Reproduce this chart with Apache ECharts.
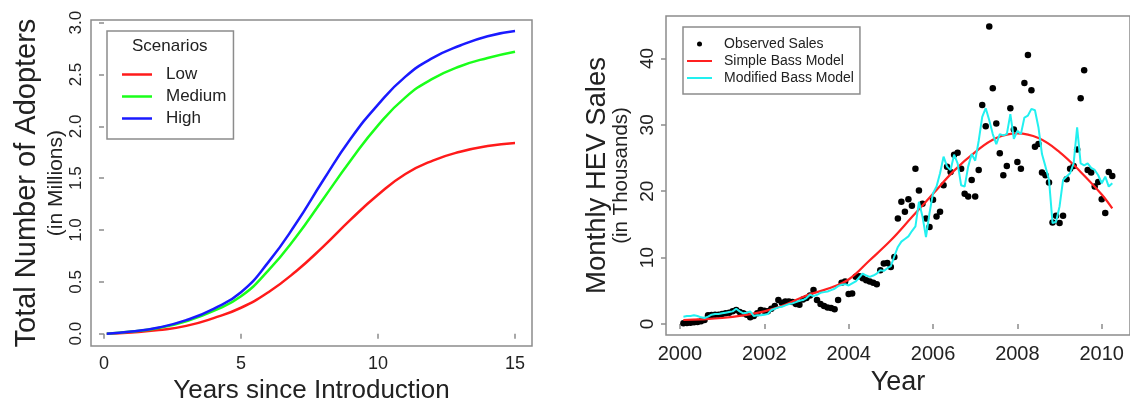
<!DOCTYPE html>
<html>
<head>
<meta charset="utf-8">
<script src="https://cdn.jsdelivr.net/npm/echarts@6/dist/echarts.min.js"></script>
<style>
html, body { margin: 0; padding: 0; background: #fff; }
.main { width: 1130px; height: 409px; }
</style>
</head>
<body>
<div class="main"></div>
<script>
// left panel: cumulative adopters per scenario (millions)
let adoptionYears = [0.1, 1, 2, 3, 4, 5, 6, 7, 8, 9, 10, 11, 12, 13, 14, 15];
let lowAdopters = [0, 0.012, 0.035, 0.075, 0.15, 0.25, 0.40, 0.60, 0.84, 1.10, 1.34, 1.54, 1.67, 1.755, 1.81, 1.84];
let mediumAdopters = [0, 0.02, 0.055, 0.12, 0.22, 0.36, 0.61, 0.93, 1.30, 1.67, 2.01, 2.28, 2.46, 2.58, 2.66, 2.72];
let highAdopters = [0, 0.02, 0.06, 0.13, 0.24, 0.40, 0.69, 1.06, 1.48, 1.88, 2.21, 2.48, 2.66, 2.78, 2.87, 2.92];
let adoptionTicks = [0, 5, 10, 15];
let adopterTicks = [0, 0.5, 1, 1.5, 2, 2.5, 3];

// right panel: monthly HEV sales (thousands), first month Feb 2000
let firstMonth = 2000 + 1 / 12;
let observedSales = [
    0.1, 0.15, 0.2, 0.25, 0.3, 0.4, 0.6, 1.3, 1.35, 1.4, 1.4, 1.5,
    1.6, 1.7, 1.9, 2.1, 1.8, 1.6, 1.4, 1.0, 1.2, 1.6, 2.1, 2.0,
    1.9, 2.3, 2.7, 3.6, 3.2, 3.4, 3.4, 3.3, 3.0, 2.9, 3.7, 3.9,
    4.3, 5.1, 3.6, 3.0, 2.7, 2.5, 2.4, 2.2, 3.6, 6.2, 6.4, 4.5,
    4.6, 7.1, 7.2, 6.9, 6.6, 6.4, 6.2, 6.0, 8.1, 9.1, 9.2, 8.6,
    10.1, 15.9, 18.4, 16.9, 18.8, 17.8, 23.4, 20.1, 18.1, 15.9, 14.6, 18.7,
    16.2, 16.9, 20.9, 23.7, 22.9, 25.5, 25.8, 23.4, 19.6, 19.2, 21.7, 19.2,
    23.2, 33.0, 29.8, 44.8, 35.5, 30.2, 25.7, 22.4, 23.8, 32.5, 29.3, 24.4,
    23.4, 36.3, 40.5, 35.2, 26.7, 27.1, 22.8, 22.4, 21.3, 15.3, 16.3, 15.2,
    16.3, 21.8, 23.4, 23.8, 26.3, 34.0, 38.2, 23.2, 22.8, 20.7, 21.4, 18.8,
    16.7, 22.9, 22.3
];
let modifiedBass = [
    1.1, 1.2, 1.2, 1.3, 1.2, 1.0, 0.9, 1.1, 1.4, 1.5, 1.5, 1.6,
    1.7, 1.8, 1.9, 2.3, 1.9, 1.6, 1.7, 1.9, 1.2, 1.3, 1.3, 1.4,
    1.5, 2.1, 2.3, 2.5, 2.6, 2.8, 3.0, 3.1, 3.3, 3.5, 3.6, 3.9,
    4.4, 4.2, 4.4, 4.7, 4.8, 4.9, 5.1, 5.3, 5.7, 5.9, 6.0, 5.8,
    6.1, 6.4, 7.0, 7.6, 7.3, 7.1, 7.3, 7.6, 8.1, 8.0, 8.4, 8.7,
    10.2, 11.6, 12.4, 12.8, 13.2, 14.0, 14.7, 18.4, 16.2, 13.1, 16.7, 19.7,
    20.7, 22.7, 25.2, 23.7, 23.2, 25.5, 24.2, 20.9, 20.7, 23.7, 25.6, 24.6,
    27.6, 31.2, 32.5, 30.7, 28.6, 27.1, 28.6, 28.4, 28.6, 31.6, 27.9, 29.1,
    28.6, 31.1, 31.4, 32.4, 32.2, 29.6, 25.6, 23.7, 21.7, 15.2, 15.4, 17.7,
    21.7, 22.2, 22.7, 24.2, 29.6, 24.2, 23.9, 24.2, 23.5, 23.2, 22.4, 21.2,
    22.2, 20.7, 21.2
];
let bassYears = [2000.08, 2000.5, 2001, 2001.5, 2002, 2002.5, 2003, 2003.5, 2004, 2004.5, 2005,
    2005.5, 2006, 2006.5, 2007, 2007.5, 2008, 2008.5, 2009, 2009.5, 2010, 2010.25];
let simpleBass = [0.6, 0.7, 0.9, 1.3, 1.9, 2.9, 4.3, 5.3, 6.7, 9.6, 12.6,
    16.1, 19.6, 23.1, 25.9, 28.0, 28.7, 28.0, 25.9, 22.9, 19.5, 17.4];
let yearTicks = [2000, 2002, 2004, 2006, 2008, 2010];
let salesTicks = [0, 10, 20, 30, 40];

let font = "'Liberation Sans', Arial, sans-serif";
let frame = '#8c8c8c';
let ink = '#222';
// plain line swatches for the legends (no symbol in the middle)
let leftSwatch = 'path://M0,0 L30,0 L30,2.5 L0,2.5 Z';
let rightSwatch = 'path://M0,0 L25,0 L25,2 L0,2 Z';

let pairs = function(xs, ys) {
    return ys.map(function(y, i) { return [xs[i], y]; });
};
let monthly = function(values) {
    return values.map(function(v, i) { return [firstMonth + i / 12, v]; });
};

let tickStyle = function(values) {
    return { show: true, length: 5, customValues: values, lineStyle: { color: frame, width: 1.5 } };
};

let myChart = echarts.init(document.querySelector('.main'), null, { renderer: 'canvas' });
let options = {
    animation: false,
    textStyle: { fontFamily: font },
    title: {
        text: 'Scenarios',
        left: 132,
        top: 38,
        padding: 0,
        textStyle: { fontSize: 17, fontWeight: 'normal', color: ink, fontFamily: font }
    },
    legend: [
        {
            data: [
                { name: 'Low', icon: leftSwatch },
                { name: 'Medium', icon: leftSwatch },
                { name: 'High', icon: leftSwatch }
            ],
            orient: 'vertical',
            left: 107,
            top: 31,
            padding: [35, 7, 12, 15],
            itemGap: 5,
            itemWidth: 30,
            itemHeight: 14,
            borderColor: frame,
            borderWidth: 1.5,
            formatter: function(name) { return '{t|' + name + '}'; },
            textStyle: {
                color: ink, fontSize: 17, fontFamily: font,
                rich: { t: { padding: [0, 0, 0, 9], fontSize: 17, color: ink, fontFamily: font } }
            }
        },
        {
            data: [
                { name: 'Observed Sales', icon: 'circle' },
                { name: 'Simple Bass Model', icon: rightSwatch },
                { name: 'Modified Bass Model', icon: rightSwatch }
            ],
            orient: 'vertical',
            left: 683,
            top: 27,
            padding: [10, 6, 9, 4],
            itemGap: 3,
            itemWidth: 25,
            itemHeight: 5,
            borderColor: frame,
            borderWidth: 1.5,
            formatter: function(name) { return '{t|' + name + '}'; },
            textStyle: {
                color: ink, fontSize: 14, fontFamily: font,
                rich: { t: { padding: [0, 0, 0, 7], fontSize: 14, color: ink, fontFamily: font } }
            }
        }
    ],
    grid: [
        { left: 91, top: 20, width: 441, height: 332, show: true, borderColor: frame, borderWidth: 1.5 },
        { left: 666, top: 16, width: 467, height: 319, show: true, borderColor: frame, borderWidth: 1.5 }
    ],
    xAxis: [
        {
            gridIndex: 0, type: 'value', min: -0.475, max: 15.62,
            axisLine: { show: false }, splitLine: { show: false },
            axisTick: tickStyle(adoptionTicks),
            axisLabel: { customValues: adoptionTicks, margin: 9, fontSize: 18, color: ink, fontFamily: font },
            name: 'Years since Introduction', nameLocation: 'middle', nameGap: 26,
            nameTextStyle: { fontSize: 26, color: ink, fontFamily: font }
        },
        {
            gridIndex: 1, type: 'value', min: 1999.67, max: 2010.67,
            axisLine: { show: false }, splitLine: { show: false },
            axisTick: tickStyle(yearTicks),
            axisLabel: {
                customValues: yearTicks, margin: 9, fontSize: 20, color: ink, fontFamily: font,
                formatter: function(v) { return String(v); }
            },
            name: 'Year', nameLocation: 'middle', nameGap: 28,
            nameTextStyle: { fontSize: 27, color: ink, fontFamily: font }
        }
    ],
    yAxis: [
        {
            gridIndex: 0, type: 'value', min: -0.12, max: 3.026,
            axisLine: { show: false }, splitLine: { show: false },
            axisTick: tickStyle(adopterTicks),
            axisLabel: {
                customValues: adopterTicks, rotate: 90, margin: 6, fontSize: 17, color: ink, fontFamily: font,
                formatter: function(v) { return v.toFixed(1); }
            },
            name: '{a|Total Number of Adopters}\n{b|(in Millions)}',
            nameLocation: 'middle', nameRotate: 90, nameGap: 22,
            nameTextStyle: {
                color: ink, fontFamily: font,
                rich: {
                    a: { fontSize: 29, lineHeight: 32, color: ink, fontFamily: font },
                    b: { fontSize: 21, lineHeight: 26, color: ink, fontFamily: font }
                }
            }
        },
        {
            gridIndex: 1, type: 'value', min: -1.66, max: 46.39,
            axisLine: { show: false }, splitLine: { show: false },
            axisTick: tickStyle(salesTicks),
            axisLabel: { customValues: salesTicks, rotate: 90, margin: 9, fontSize: 19, color: ink, fontFamily: font },
            name: '{a|Monthly HEV Sales}\n{b|(in Thousands)}',
            nameLocation: 'middle', nameRotate: 90, nameGap: 34,
            nameTextStyle: {
                color: ink, fontFamily: font,
                rich: {
                    a: { fontSize: 27.5, lineHeight: 28, color: ink, fontFamily: font },
                    b: { fontSize: 20.5, lineHeight: 21, color: ink, fontFamily: font }
                }
            }
        }
    ],
    series: [
        {
            name: 'Low', type: 'line', xAxisIndex: 0, yAxisIndex: 0,
            data: pairs(adoptionYears, lowAdopters), smooth: 0.5, symbol: 'none',
            lineStyle: { color: '#ff1a1a', width: 2.5 }, itemStyle: { color: '#ff1a1a' }
        },
        {
            name: 'Medium', type: 'line', xAxisIndex: 0, yAxisIndex: 0,
            data: pairs(adoptionYears, mediumAdopters), smooth: 0.5, symbol: 'none',
            lineStyle: { color: '#1aff1a', width: 2.5 }, itemStyle: { color: '#1aff1a' }
        },
        {
            name: 'High', type: 'line', xAxisIndex: 0, yAxisIndex: 0,
            data: pairs(adoptionYears, highAdopters), smooth: 0.5, symbol: 'none',
            lineStyle: { color: '#1a1aff', width: 2.5 }, itemStyle: { color: '#1a1aff' }
        },
        {
            name: 'Observed Sales', type: 'scatter', xAxisIndex: 1, yAxisIndex: 1,
            data: monthly(observedSales), symbol: 'circle', symbolSize: 6.5,
            itemStyle: { color: '#000', opacity: 1 }
        },
        {
            name: 'Simple Bass Model', type: 'line', xAxisIndex: 1, yAxisIndex: 1,
            data: pairs(bassYears, simpleBass), smooth: 0.4, symbol: 'none',
            lineStyle: { color: '#ff2020', width: 2.2 }, itemStyle: { color: '#ff2020' }
        },
        {
            name: 'Modified Bass Model', type: 'line', xAxisIndex: 1, yAxisIndex: 1,
            data: monthly(modifiedBass), symbol: 'none',
            lineStyle: { color: '#22f0f0', width: 2 }, itemStyle: { color: '#22f0f0' }
        }
    ]
};
myChart.setOption(options);
</script>
</body>
</html>
